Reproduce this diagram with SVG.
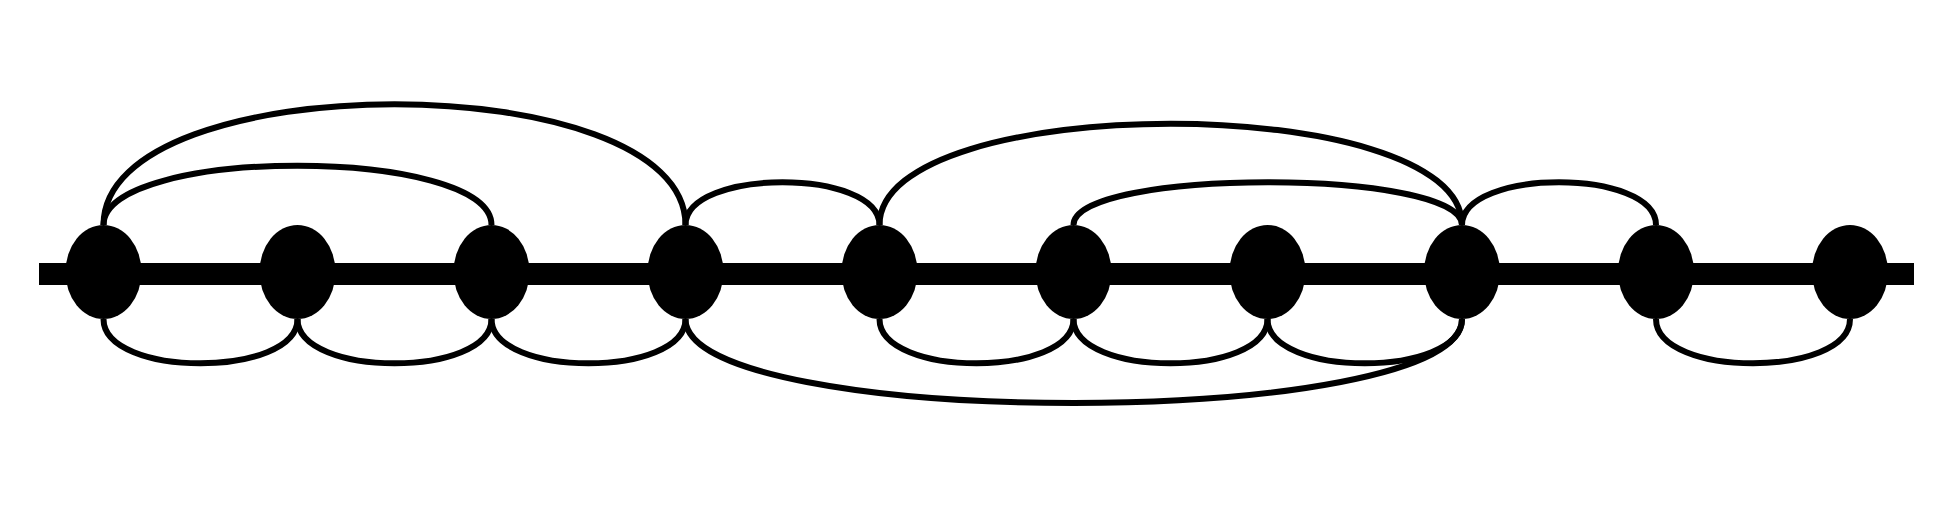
<svg xmlns="http://www.w3.org/2000/svg" width="1940" height="521" viewBox="0 0 1940 521">
<style>
.edge{fill:none;stroke:#000;stroke-width:6}
.node{fill:#000}
</style>
<rect width="1940" height="521" fill="#fff"/>
<rect id="bar" x="39" y="263" width="1875" height="22" fill="#000"/>
<g id="connectors">
<path class="edge" d="M103.5,225 C103.5,64 685.5,64 685.5,225"/>
<path class="edge" d="M103.5,225 C103.5,146 491.5,146 491.5,225"/>
<path class="edge" d="M685.5,225 C685.5,168 879.5,168 879.5,225"/>
<path class="edge" d="M879.5,225 C879.5,90 1462,90 1462,225"/>
<path class="edge" d="M1073.5,225 C1073.5,168 1462,168 1462,225"/>
<path class="edge" d="M1462,225 C1462,168 1656,168 1656,225"/>
<path class="edge" d="M103.5,319 C103.5,378 297.5,378 297.5,319"/>
<path class="edge" d="M297.5,319 C297.5,378 491.5,378 491.5,319"/>
<path class="edge" d="M491.5,319 C491.5,378 685.5,378 685.5,319"/>
<path class="edge" d="M685.5,319 C685.5,431 1462,431 1462,319"/>
<path class="edge" d="M879.5,319 C879.5,378 1073.5,378 1073.5,319"/>
<path class="edge" d="M1073.5,319 C1073.5,378 1267.5,378 1267.5,319"/>
<path class="edge" d="M1267.5,319 C1267.5,378 1462,378 1462,319"/>
<path class="edge" d="M1656,319 C1656,378 1850,378 1850,319"/>
</g>
<g id="n0"><ellipse class="node" cx="103.5" cy="272" rx="38" ry="47"/></g>
<g id="n1"><ellipse class="node" cx="297.5" cy="272" rx="38" ry="47"/></g>
<g id="n2"><ellipse class="node" cx="491.5" cy="272" rx="38" ry="47"/></g>
<g id="n3"><ellipse class="node" cx="685.5" cy="272" rx="38" ry="47"/></g>
<g id="n4"><ellipse class="node" cx="879.5" cy="272" rx="38" ry="47"/></g>
<g id="n5"><ellipse class="node" cx="1073.5" cy="272" rx="38" ry="47"/></g>
<g id="n6"><ellipse class="node" cx="1267.5" cy="272" rx="38" ry="47"/></g>
<g id="n7"><ellipse class="node" cx="1462" cy="272" rx="38" ry="47"/></g>
<g id="n8"><ellipse class="node" cx="1656" cy="272" rx="38" ry="47"/></g>
<g id="n9"><ellipse class="node" cx="1850" cy="272" rx="38" ry="47"/></g>
</svg>
